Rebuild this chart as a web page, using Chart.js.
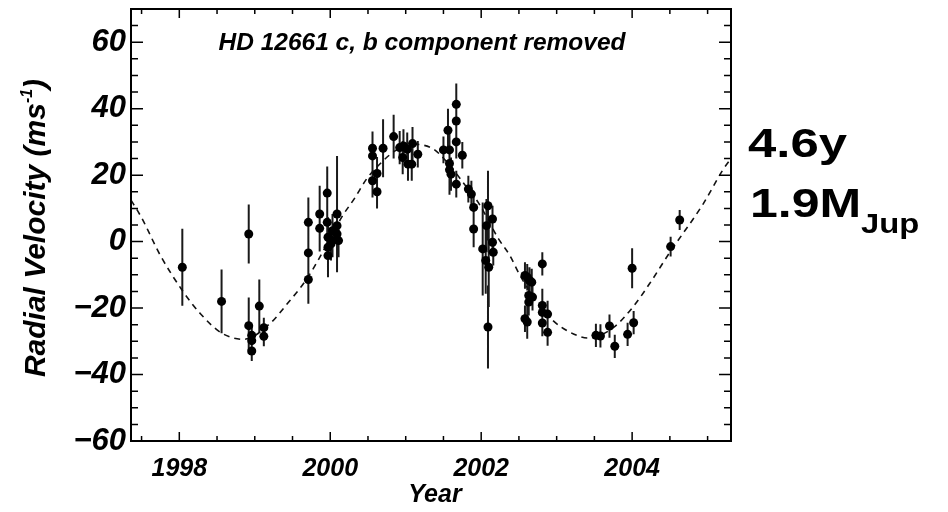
<!DOCTYPE html>
<html>
<head>
<meta charset="utf-8">
<script src="https://cdn.jsdelivr.net/npm/chart.js@4.4.1/dist/chart.umd.min.js"></script>
<style>
  html, body { margin: 0; padding: 0; background: #fff; }
  #wrap { width: 948px; height: 512px; }
</style>
</head>
<body>
<div id="wrap"><canvas id="rvChart"></canvas></div>
<script>
// observed radial velocities (b component removed)
const obsYear = [
  1998.04, 1998.56, 1998.92, 1998.92, 1998.96, 1998.96, 1998.96, 1999.06, 1999.12, 1999.12,
  1999.71, 1999.71, 1999.71, 1999.86, 1999.86, 1999.96, 1999.96, 1999.97, 1999.97, 1999.97,
  2000.03, 2000.03, 2000.01, 2000.09, 2000.09, 2000.09, 2000.11,
  2000.56, 2000.56, 2000.56, 2000.62, 2000.62, 2000.70, 2000.84, 2000.92, 2000.97, 2000.96,
  2001.02, 2001.03, 2001.08, 2001.09, 2001.16,
  2001.50, 2001.56, 2001.58, 2001.58, 2001.58, 2001.60, 2001.67, 2001.67, 2001.67, 2001.67,
  2001.75, 2001.83, 2001.87, 2001.90, 2001.90,
  2002.02, 2002.06, 2002.07, 2002.09, 2002.10, 2002.09, 2002.15, 2002.15, 2002.16,
  2002.58, 2002.61, 2002.64, 2002.67, 2002.63, 2002.68, 2002.63, 2002.58, 2002.61,
  2002.81, 2002.81, 2002.81, 2002.81, 2002.88, 2002.88,
  2003.52, 2003.58, 2003.70, 2003.77, 2003.94, 2004.00, 2004.02, 2004.51, 2004.63
];
const obsVel = [
  -7.7, -18.0, 2.3, -25.3, -28.2, -29.8, -32.9, -19.4, -25.9, -28.5,
  5.8, -3.4, -11.4, 8.3, 4.0, 14.6, 5.8, 1.3, -1.7, -4.2,
  3.3, 0.3, -0.7, 8.3, 4.8, 2.3, 0.3,
  28.1, 25.8, 18.3, 20.5, 15.0, 28.1, 31.6, 28.3, 28.8, 25.3,
  27.8, 23.3, 23.3, 29.5, 26.3,
  27.6, 33.5, 27.6, 23.5, 21.6, 20.3, 41.3, 36.3, 30.0, 17.3,
  26.0, 15.8, 14.3, 10.3, 3.8,
  -2.2, -5.7, 4.8, 10.8, -7.7, -25.7, 6.8, -0.2, -3.2,
  -10.2, -10.7, -11.7, -12.2, -16.2, -16.7, -18.2, -23.2, -24.2,
  -6.7, -19.2, -21.3, -24.5, -21.8, -27.3,
  -28.2, -28.4, -25.4, -31.5, -27.9, -8.0, -24.4, -1.5, 6.5
];
const obsErr = [
  11.6, 9.6, 8.9, 8.5, 3, 3, 3, 8, 3, 3,
  7.5, 7, 7.3, 8.5, 7, 8, 8, 6, 6, 6.5,
  5, 5, 5, 17.5, 5, 5, 5,
  5, 5, 5, 5, 5, 8.7, 6.6, 5, 5, 5,
  5, 5, 5, 5, 4,
  4, 6.5, 5, 6, 7.5, 5, 6.3, 5, 5, 4,
  4, 4, 4, 4, 5.5,
  14, 10, 8, 10.5, 12, 12.5, 4, 4, 4,
  4, 4, 4, 4, 4, 4, 4, 4, 5,
  3.5, 5, 4, 4, 4, 4,
  3.5, 3.5, 3.5, 3.5, 3.5, 6, 3.5, 3, 3
];

// fitted orbit (dashed)
const fitYear = [
  1997.36, 1997.5, 1997.75, 1998.04, 1998.28, 1998.56, 1998.85, 1999.2, 1999.43, 1999.69,
  2000.0, 2000.15, 2000.33, 2000.48, 2000.7, 2000.86, 2001.1, 2001.37, 2001.57, 2001.81,
  2001.96, 2002.23, 2002.38, 2002.51, 2002.72, 2002.94, 2003.17, 2003.42, 2003.75, 2004.01,
  2004.23, 2004.5, 2004.94, 2005.2, 2005.31
];
const fitVel = [
  12.5, 7.2, -4.2, -14.7, -21.7, -27.5, -29.4, -24.7, -18.7, -11.2,
  1.0, 7.3, 13.3, 18.8, 24.3, 27.3, 29.3, 27.8, 23.3, 16.3,
  11.8, 0.8, -4.2, -10.0, -17.5, -23.5, -27.2, -29.0, -25.9, -19.7,
  -12.7, -3.2, 11.3, 21.5, 25.0
];

const yearTicks = [1998, 2000, 2002, 2004];
const velTicks = [-60, -40, -20, 0, 20, 40, 60];

const FONT = '"Liberation Sans", Arial, Helvetica, sans-serif';

const errorBars = {
  id: 'errorBars',
  beforeDatasetsDraw(chart) {
    const { ctx, chartArea: a, scales: { x, y } } = chart;
    ctx.save();
    ctx.beginPath();
    ctx.rect(a.left, a.top, a.right - a.left, a.bottom - a.top);
    ctx.clip();
    ctx.strokeStyle = '#1a1a1a';
    ctx.lineWidth = 2;
    ctx.beginPath();
    obsYear.forEach((yr, i) => {
      const px = x.getPixelForValue(yr);
      ctx.moveTo(px, y.getPixelForValue(obsVel[i] - obsErr[i]));
      ctx.lineTo(px, y.getPixelForValue(obsVel[i] + obsErr[i]));
    });
    ctx.stroke();
    ctx.restore();
  }
};

const frame = {
  id: 'frame',
  afterDraw(chart) {
    const { ctx, chartArea: a, scales: { x, y } } = chart;
    ctx.save();
    ctx.strokeStyle = '#000';
    ctx.lineWidth = 2;
    ctx.strokeRect(a.left, a.top, a.right - a.left, a.bottom - a.top);

    ctx.lineWidth = 1.5;
    ctx.beginPath();
    for (let v = 1997.5; v < x.max; v += 0.5) {
      const len = yearTicks.includes(v) ? 9 : 5;
      const px = x.getPixelForValue(v);
      ctx.moveTo(px, a.bottom); ctx.lineTo(px, a.bottom - len);
      ctx.moveTo(px, a.top); ctx.lineTo(px, a.top + len);
    }
    for (let v = -55; v < y.max; v += 5) {
      const len = velTicks.includes(v) ? 12 : 7;
      const py = y.getPixelForValue(v);
      ctx.moveTo(a.left, py); ctx.lineTo(a.left + len, py);
      ctx.moveTo(a.right, py); ctx.lineTo(a.right - len, py);
    }
    ctx.stroke();

    ctx.fillStyle = '#000';
    ctx.textBaseline = 'alphabetic';

    // title inside the frame
    ctx.font = 'italic bold 24.5px ' + FONT;
    ctx.textAlign = 'center';
    ctx.fillText('HD 12661 c, b component removed', 422, 50);

    // x title
    ctx.font = 'italic bold 25px ' + FONT;
    ctx.fillText('Year', 435, 502);

    // y title with superscript
    ctx.save();
    ctx.translate(45, 228);
    ctx.rotate(-Math.PI / 2);
    ctx.textAlign = 'left';
    const main = 'Radial Velocity (ms';
    ctx.font = 'italic bold 30px ' + FONT;
    const w1 = ctx.measureText(main).width;
    const w3 = ctx.measureText(')').width;
    ctx.font = 'italic bold 16px ' + FONT;
    const w2 = ctx.measureText('-1').width;
    let cx = -(w1 + w2 + w3) / 2;
    ctx.font = 'italic bold 30px ' + FONT;
    ctx.fillText(main, cx, 0);
    cx += w1;
    ctx.font = 'italic bold 16px ' + FONT;
    ctx.fillText('-1', cx, -13);
    cx += w2;
    ctx.font = 'italic bold 30px ' + FONT;
    ctx.fillText(')', cx, 0);
    ctx.restore();

    // period / mass annotation on the right
    ctx.textAlign = 'left';
    ctx.save();
    ctx.translate(748, 157);
    ctx.scale(1.24, 1);
    ctx.font = 'bold 41px ' + FONT;
    ctx.fillText('4.6y', 0, 0);
    ctx.restore();
    ctx.save();
    ctx.translate(750, 217);
    ctx.scale(1.22, 1);
    ctx.font = 'bold 41px ' + FONT;
    ctx.fillText('1.9M', 0, 0);
    ctx.restore();
    ctx.save();
    ctx.translate(861, 233);
    ctx.scale(1.17, 1);
    ctx.font = 'bold 28px ' + FONT;
    ctx.fillText('Jup', 0, 0);
    ctx.restore();

    ctx.restore();
  }
};

new Chart(document.getElementById('rvChart'), {
  type: 'scatter',
  data: {
    datasets: [
      {
        label: 'fit',
        data: fitYear.map((yr, i) => ({ x: yr, y: fitVel[i] })),
        showLine: true,
        borderColor: '#111',
        borderWidth: 1.6,
        borderDash: [6, 5],
        pointRadius: 0,
        cubicInterpolationMode: 'monotone',
        order: 2
      },
      {
        label: 'data',
        data: obsYear.map((yr, i) => ({ x: yr, y: obsVel[i] })),
        pointRadius: 4.5,
        pointBackgroundColor: '#000',
        pointBorderWidth: 0,
        order: 1
      }
    ]
  },
  options: {
    responsive: true,
    maintainAspectRatio: false,
    animation: false,
    devicePixelRatio: 1,
    layout: { padding: { left: 0, right: 217, top: 9, bottom: 0 } },
    plugins: { legend: { display: false }, tooltip: { enabled: false } },
    scales: {
      x: {
        type: 'linear',
        min: 1997.36,
        max: 2005.31,
        grid: { display: false, drawTicks: false },
        border: { display: false },
        afterBuildTicks: s => { s.ticks = yearTicks.map(v => ({ value: v })); },
        afterFit: s => { s.height = 71; s.paddingLeft = 0; s.paddingRight = 0; },
        ticks: {
          color: '#000',
          padding: 13,
          maxRotation: 0,
          autoSkip: false,
          font: { family: FONT, size: 25, style: 'italic', weight: 'bold' },
          callback: v => String(v)
        }
      },
      y: {
        min: -60,
        max: 70,
        grid: { display: false, drawTicks: false },
        border: { display: false },
        afterBuildTicks: s => { s.ticks = velTicks.map(v => ({ value: v })); },
        afterFit: s => { s.width = 131; s.paddingTop = 0; s.paddingBottom = 0; },
        ticks: {
          color: '#000',
          padding: 5,
          font: { family: FONT, size: 31, style: 'italic', weight: 'bold' },
          callback: v => (v < 0 ? '\u2212' + Math.abs(v) : String(v))
        }
      }
    }
  },
  plugins: [errorBars, frame]
});
</script>
</body>
</html>
